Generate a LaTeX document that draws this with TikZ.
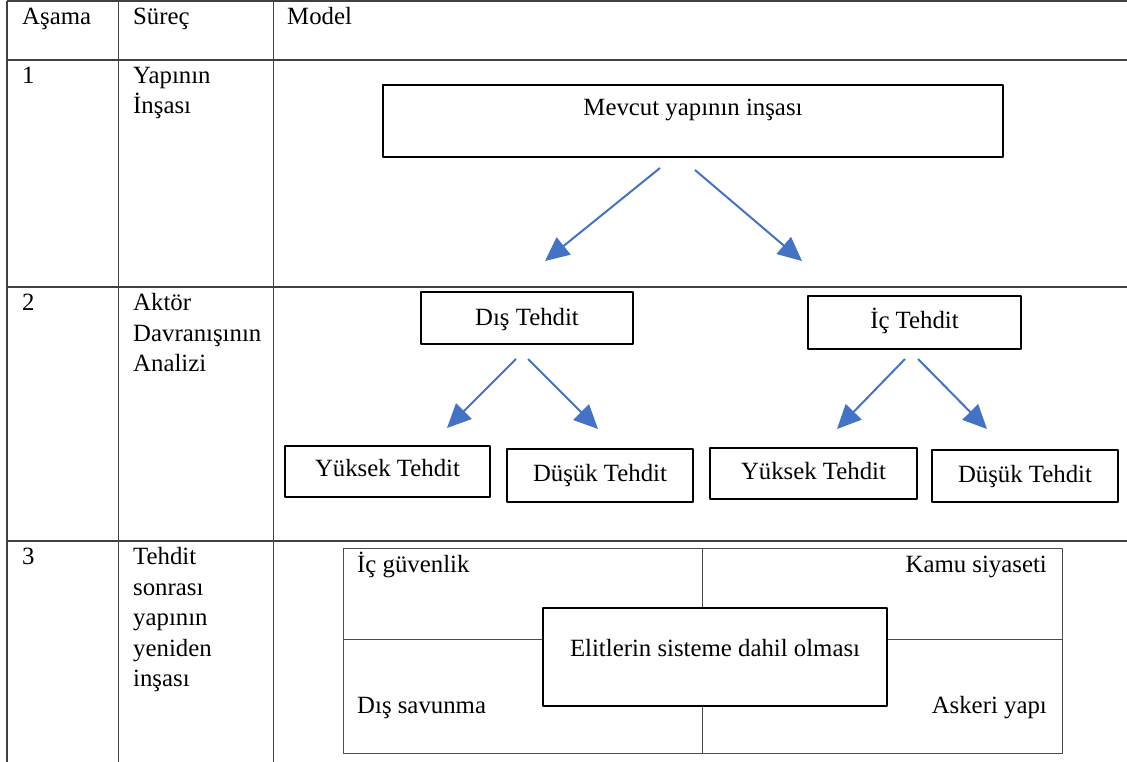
\documentclass[tikz,border=0pt]{standalone}
\usepackage{fontspec}
\setmainfont{Liberation Serif}
\usetikzlibrary{arrows.meta}
\definecolor{arrowblue}{RGB}{68,114,196}
\newcommand{\firststrut}{\rule{0pt}{22pt}}

\begin{document}
\begin{tikzpicture}[x=1pt,y=-1pt,join=round, % Threat model table
    every node/.style={font=\fontsize{24.8}{30.5}\selectfont},
    gridline/.style={line width=1.2pt,black!75},
    quadline/.style={line width=1pt,black!70},
    tbox/.style={draw,line width=2.2pt,inner sep=0pt,fill=white,
        text height=17pt,text depth=5pt},
    cell/.style={inner sep=0pt,align=left,anchor=north west},
    bluearrow/.style={line width=2pt,arrowblue,-{Triangle[length=24pt,width=22pt]}}]
    \useasboundingbox (0,0) rectangle (1127,762);
    % table
    \draw[gridline] (7,1)--(1127,1) (7,60)--(1127,60) (7,287)--(1127,287) (7,541)--(1127,541);
    \draw[gridline] (7,1)--(7,762) (118.5,1)--(118.5,762) (273.5,1)--(273.5,762);
    \node[cell] (hasama) at (22,2.5) {\firststrut Aşama};
    \node[cell] (hsurec) at (133,2.5) {\firststrut Süreç};
    \node[cell] (hmodel) at (287,2.5) {\firststrut Model};
    \node[cell] (n1) at (22,61) {\firststrut 1};
    \node[cell] (s1) at (133,61) {\firststrut Yapının\\İnşası};
    \node[cell] (n2) at (22,288.5) {\firststrut 2};
    \node[cell] (s2) at (133,288.5) {\firststrut Aktör\\Davranışının\\Analizi};
    \node[cell] (n3) at (22,542.5) {\firststrut 3};
    \node[cell] (s3) at (133,542.5) {\firststrut Tehdit\\sonrası\\yapının\\yeniden\\inşası};
    % row 1
    \node[tbox,minimum width=620pt,minimum height=72pt,text depth=27pt] (mevcut) at (693,121) {Mevcut yapının inşası};
    \coordinate (m1) at (660,168);
    \coordinate (m1t) at (545,261);
    \coordinate (m2) at (695,170);
    \coordinate (m2t) at (802,261);
    \draw[bluearrow] (m1)--(m1t);
    \draw[bluearrow] (m2)--(m2t);
    % row 2
    \node[tbox,minimum width=212pt,minimum height=52pt,text depth=3pt] (dis) at (527,318) {Dış Tehdit};
    \node[tbox,minimum width=213pt,minimum height=53pt] (ic) at (914.5,322.5) {İç Tehdit};
    \node[tbox,minimum width=205pt,minimum height=51pt,text depth=8pt] (yuksekA) at (387.5,471.5) {Yüksek Tehdit};
    \node[tbox,minimum width=186pt,minimum height=53pt] (dusukA) at (600,475.5) {Düşük Tehdit};
    \node[tbox,minimum width=207pt,minimum height=51pt] (yuksekB) at (813.5,473.5) {Yüksek Tehdit};
    \node[tbox,minimum width=186pt,minimum height=52pt] (dusukB) at (1025,476) {Düşük Tehdit};
    \coordinate (d1) at (516,359);
    \coordinate (d1t) at (447,428);
    \coordinate (d2) at (528,359);
    \coordinate (d2t) at (598,429);
    \coordinate (i1) at (905,359);
    \coordinate (i1t) at (837,429);
    \coordinate (i2) at (918,359);
    \coordinate (i2t) at (987,429);
    \draw[bluearrow] (d1)--(d1t);
    \draw[bluearrow] (d2)--(d2t);
    \draw[bluearrow] (i1)--(i1t);
    \draw[bluearrow] (i2)--(i2t);
    % row 3
    \draw[quadline] (343,548) rectangle (1062,753);
    \draw[quadline] (702,548)--(702,753) (343,639)--(1062,639);
    \node[tbox,minimum width=344pt,minimum height=98pt,text depth=19pt] (elit) at (715,657) {Elitlerin sisteme dahil olması};
    \node[inner sep=0pt,anchor=base west] (icguv) at (357,572) {İç güvenlik};
    \node[inner sep=0pt,anchor=base east] (kamu) at (1047,572) {Kamu siyaseti};
    \node[inner sep=0pt,anchor=base west] (dissav) at (357,713) {Dış savunma};
    \node[inner sep=0pt,anchor=base east] (askeri) at (1047,713) {Askeri yapı};
\end{tikzpicture}
\end{document}
